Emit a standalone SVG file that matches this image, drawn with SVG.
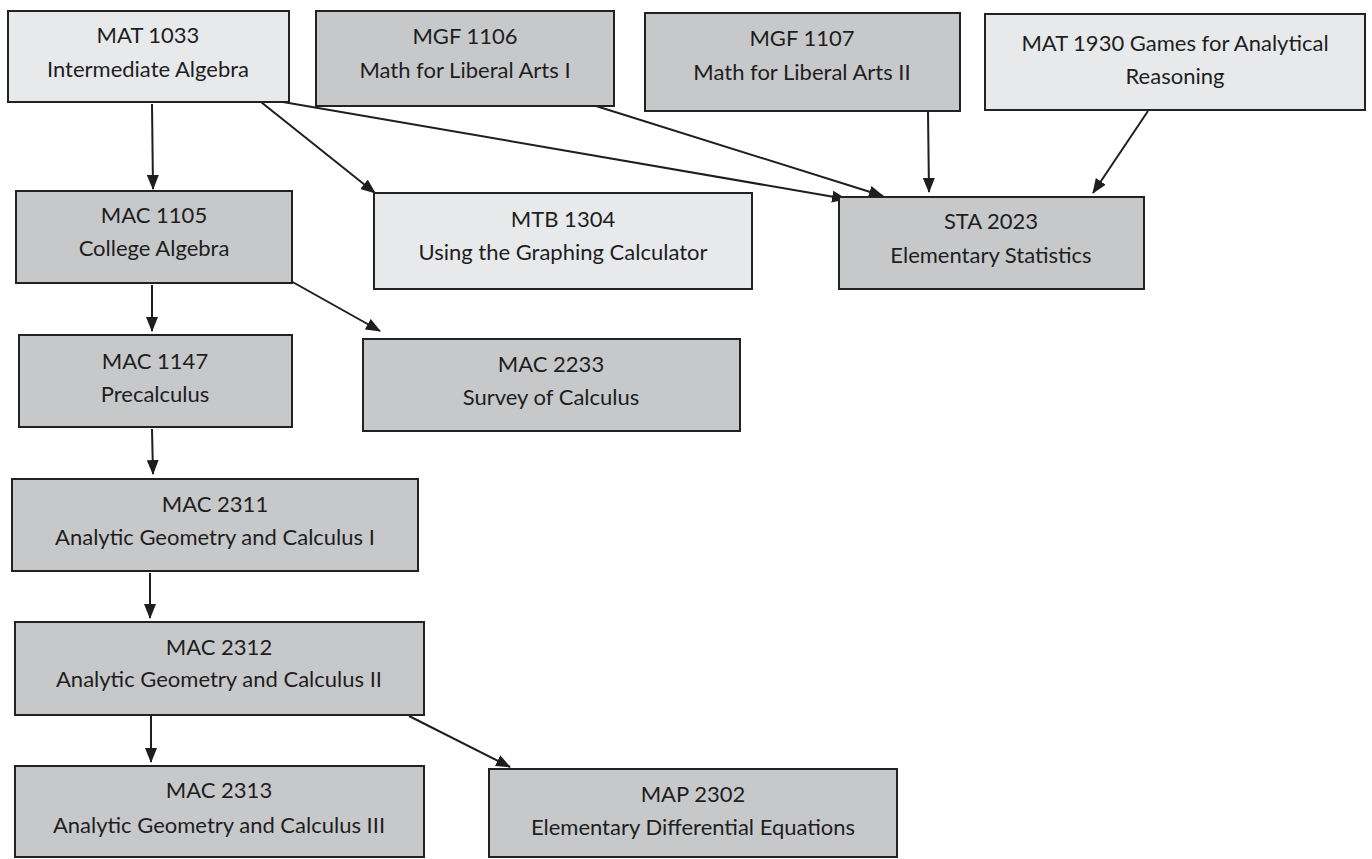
<svg xmlns="http://www.w3.org/2000/svg" width="1372" height="859" viewBox="0 0 1372 859">
<style>
.box{stroke:#222;stroke-width:2}
.light{fill:#e8e9eb}
.dark{fill:#c7c8ca}
text{font-family:Lato,"Open Sans","Liberation Sans",sans-serif;font-size:22px;fill:#1e1e1e;text-anchor:middle}
.edge{stroke:#1e1e1e;stroke-width:2;fill:none;marker-end:url(#arr)}
</style>
<defs>
<marker id="arr" markerUnits="userSpaceOnUse" markerWidth="15" markerHeight="12" refX="14" refY="6" orient="auto">
<path d="M0,0 L15,6 L0,12 z" fill="#1e1e1e"/>
</marker>
</defs>
<rect width="1372" height="859" fill="#fff"/>
<g id="edges">
<line class="edge" x1="152" y1="104" x2="153" y2="189"/>
<line class="edge" x1="261" y1="102" x2="375" y2="193"/>
<line class="edge" x1="283" y1="102" x2="846" y2="199"/>
<line class="edge" x1="596" y1="106" x2="883" y2="196"/>
<line class="edge" x1="928" y1="112" x2="929" y2="192"/>
<line class="edge" x1="1148" y1="111" x2="1093" y2="193"/>
<line class="edge" x1="152" y1="285" x2="152" y2="331"/>
<line class="edge" x1="289" y1="280" x2="380" y2="331"/>
<line class="edge" x1="152" y1="429" x2="153" y2="474"/>
<line class="edge" x1="150" y1="573" x2="150" y2="618"/>
<line class="edge" x1="151" y1="716" x2="151" y2="762"/>
<line class="edge" x1="409" y1="716" x2="510" y2="767"/>
</g>
<g id="mat1033"><rect class="box light" x="8" y="11" width="281" height="91"/><text x="148" y="43">MAT 1033</text><text x="148" y="77">Intermediate Algebra</text></g>
<g id="mgf1106"><rect class="box dark" x="316" y="11" width="298" height="95"/><text x="465" y="44">MGF 1106</text><text x="465" y="78">Math for Liberal Arts I</text></g>
<g id="mgf1107"><rect class="box dark" x="645" y="13" width="315" height="98"/><text x="802" y="46">MGF 1107</text><text x="802" y="80">Math for Liberal Arts II</text></g>
<g id="mat1930"><rect class="box light" x="985" y="14" width="380" height="96"/><text x="1175" y="51">MAT 1930 Games for Analytical</text><text x="1175" y="84">Reasoning</text></g>
<g id="mac1105"><rect class="box dark" x="16" y="191" width="276" height="92"/><text x="154" y="223">MAC 1105</text><text x="154" y="256">College Algebra</text></g>
<g id="mtb1304"><rect class="box light" x="374" y="193" width="378" height="96"/><text x="563" y="227">MTB 1304</text><text x="563" y="260">Using the Graphing Calculator</text></g>
<g id="sta2023"><rect class="box dark" x="839" y="197" width="305" height="92"/><text x="991" y="229">STA 2023</text><text x="991" y="263">Elementary Statistics</text></g>
<g id="mac1147"><rect class="box dark" x="19" y="335" width="273" height="92"/><text x="155" y="369">MAC 1147</text><text x="155" y="402">Precalculus</text></g>
<g id="mac2233"><rect class="box dark" x="363" y="339" width="377" height="92"/><text x="551" y="372">MAC 2233</text><text x="551" y="405">Survey of Calculus</text></g>
<g id="mac2311"><rect class="box dark" x="12" y="479" width="406" height="92"/><text x="215" y="512">MAC 2311</text><text x="215" y="545">Analytic Geometry and Calculus I</text></g>
<g id="mac2312"><rect class="box dark" x="15" y="622" width="409" height="93"/><text x="219" y="655">MAC 2312</text><text x="219" y="687">Analytic Geometry and Calculus II</text></g>
<g id="mac2313"><rect class="box dark" x="15" y="766" width="409" height="91"/><text x="219" y="798">MAC 2313</text><text x="219" y="833">Analytic Geometry and Calculus III</text></g>
<g id="map2302"><rect class="box dark" x="489" y="769" width="408" height="88"/><text x="693" y="802">MAP 2302</text><text x="693" y="835">Elementary Differential Equations</text></g>
</svg>
